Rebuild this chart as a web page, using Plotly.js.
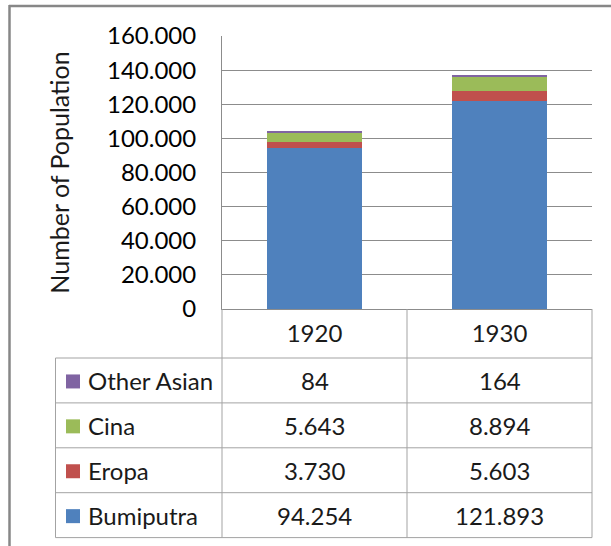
<!DOCTYPE html>
<html>
<head>
<meta charset="utf-8">
<script src="https://cdn.plot.ly/plotly-3.0.1.min.js"></script>
<style>
  html, body { margin: 0; padding: 0; background: #ffffff; }
  #chart { width: 611px; height: 546px; }
</style>
</head>
<body>
<div id="chart"></div>
<script>
// Census years and population by group
const years = ['1920', '1930'];
const bumiputra = [94254, 121893];
const eropa = [3730, 5603];
const cina = [5643, 8894];
const otherAsian = [84, 164];

// Stacking order, bottom to top
const seriesNames = ['Bumiputra', 'Eropa', 'Cina', 'Other Asian'];
const seriesValues = [bumiputra, eropa, cina, otherAsian];
const seriesColors = ['#4F81BD', '#C0504D', '#9BBB59', '#8064A2'];
// outline so the thinnest segment stays visible
const seriesOutline = [0, 0, 0, 1.2];

const yTicks = [0, 20000, 40000, 60000, 80000, 100000, 120000, 140000, 160000];

const FONT = 'Lato, "Open Sans", sans-serif';
const TEXT = '#1a1a1a';
const GRID = '#8c8c8c';
const TABLE = '#a3a3a3';

// Figure geometry (pixels)
const W = 611, H = 546;
const M = { l: 222, r: 19, t: 36, b: 237 };
const plotW = W - M.l - M.r;
const plotH = H - M.t - M.b;
const px2x = px => (px - M.l) / plotW;
const py2y = py => (H - M.b - py) / plotH;

// Data-table geometry
const headerBottom = 358;
const rowH = 44.9;
const labelLeft = 55.5;
const keyLeft = 66, keySize = 14;
const labelTextLeft = 86;

function fmt(n) {
  return String(n).replace(/\B(?=(\d{3})+(?!\d))/g, '.');
}

const traces = seriesNames.map((name, s) => ({
  type: 'bar',
  name: name,
  x: years,
  y: seriesValues[s],
  marker: { color: seriesColors[s], line: { width: seriesOutline[s], color: seriesColors[s] } },
  hoverinfo: 'x+y+name'
}));

const shapes = [];
const annotations = [];

// Table rows, top row shows the last stacked series
const rowOrder = seriesNames.map((_, i) => seriesNames.length - 1 - i);
const tableBottom = headerBottom + rowH * rowOrder.length;

// Horizontal rules
for (let r = 0; r <= rowOrder.length; r++) {
  const py = headerBottom + r * rowH;
  shapes.push({
    type: 'line', xref: 'paper', yref: 'paper',
    x0: px2x(labelLeft), x1: 1, y0: py2y(py), y1: py2y(py),
    line: { color: TABLE, width: 1 }
  });
}
// Vertical rules for the year columns
for (let c = 0; c <= years.length; c++) {
  const xp = c / years.length;
  shapes.push({
    type: 'line', xref: 'paper', yref: 'paper',
    x0: xp, x1: xp, y0: 0, y1: py2y(tableBottom),
    line: { color: TABLE, width: 1 }
  });
}
// Left edge of the label column
shapes.push({
  type: 'line', xref: 'paper', yref: 'paper',
  x0: px2x(labelLeft), x1: px2x(labelLeft),
  y0: py2y(headerBottom), y1: py2y(tableBottom),
  line: { color: TABLE, width: 1 }
});

rowOrder.forEach((s, r) => {
  const cy = headerBottom + (r + 0.5) * rowH;
  // legend key
  shapes.push({
    type: 'rect', xref: 'paper', yref: 'paper',
    x0: px2x(keyLeft), x1: px2x(keyLeft + keySize),
    y0: py2y(cy - keySize / 2 + 1), y1: py2y(cy + keySize / 2 + 1),
    fillcolor: seriesColors[s], line: { width: 0 }
  });
  annotations.push({
    xref: 'paper', yref: 'paper',
    x: px2x(labelTextLeft), y: py2y(cy),
    xanchor: 'left', yanchor: 'middle',
    text: seriesNames[s], showarrow: false,
    font: { family: FONT, size: 24, color: TEXT }
  });
  // one cell per year, placed on the category axis by index
  years.forEach((yr, i) => {
    annotations.push({
      xref: 'x', yref: 'paper',
      x: i, y: py2y(cy),
      xanchor: 'center', yanchor: 'middle',
      text: fmt(seriesValues[s][i]), showarrow: false,
      font: { family: FONT, size: 24, color: TEXT }
    });
  });
});

// Outer chart frame
shapes.push({
  type: 'line', xref: 'paper', yref: 'paper',
  x0: px2x(9), x1: px2x(W + 10), y0: py2y(6), y1: py2y(6),
  line: { color: '#878787', width: 2.5 }
});
shapes.push({
  type: 'line', xref: 'paper', yref: 'paper',
  x0: px2x(9.5), x1: px2x(9.5), y0: py2y(5), y1: py2y(H + 10),
  line: { color: '#878787', width: 2.5 }
});

const layout = {
  width: W,
  height: H,
  margin: M,
  paper_bgcolor: '#ffffff',
  plot_bgcolor: '#ffffff',
  barmode: 'stack',
  bargap: 0.49,
  showlegend: false,
  separators: ',.',
  font: { family: FONT, size: 24, color: TEXT },
  xaxis: {
    type: 'category',
    range: [-0.5, years.length - 0.5],
    autorange: false,
    showgrid: false,
    showline: true,
    linecolor: GRID,
    linewidth: 1,
    ticks: '',
    ticklabelstandoff: 3,
    tickfont: { family: FONT, size: 24, color: TEXT },
    fixedrange: true
  },
  yaxis: {
    range: [0, 160000],
    autorange: false,
    tickvals: yTicks,
    tickformat: ',d',
    showgrid: true,
    gridcolor: GRID,
    gridwidth: 1,
    zeroline: false,
    showline: true,
    linecolor: GRID,
    linewidth: 1,
    ticks: '',
    ticklabelstandoff: 20,
    tickfont: { family: FONT, size: 24, color: '#000000' },
    title: {
      text: 'Number of Population',
      font: { family: FONT, size: 25, color: TEXT },
      standoff: 30
    },
    fixedrange: true
  },
  shapes: shapes,
  annotations: annotations
};

Plotly.newPlot('chart', traces, layout, { displayModeBar: false, staticPlot: true });
</script>
</body>
</html>
